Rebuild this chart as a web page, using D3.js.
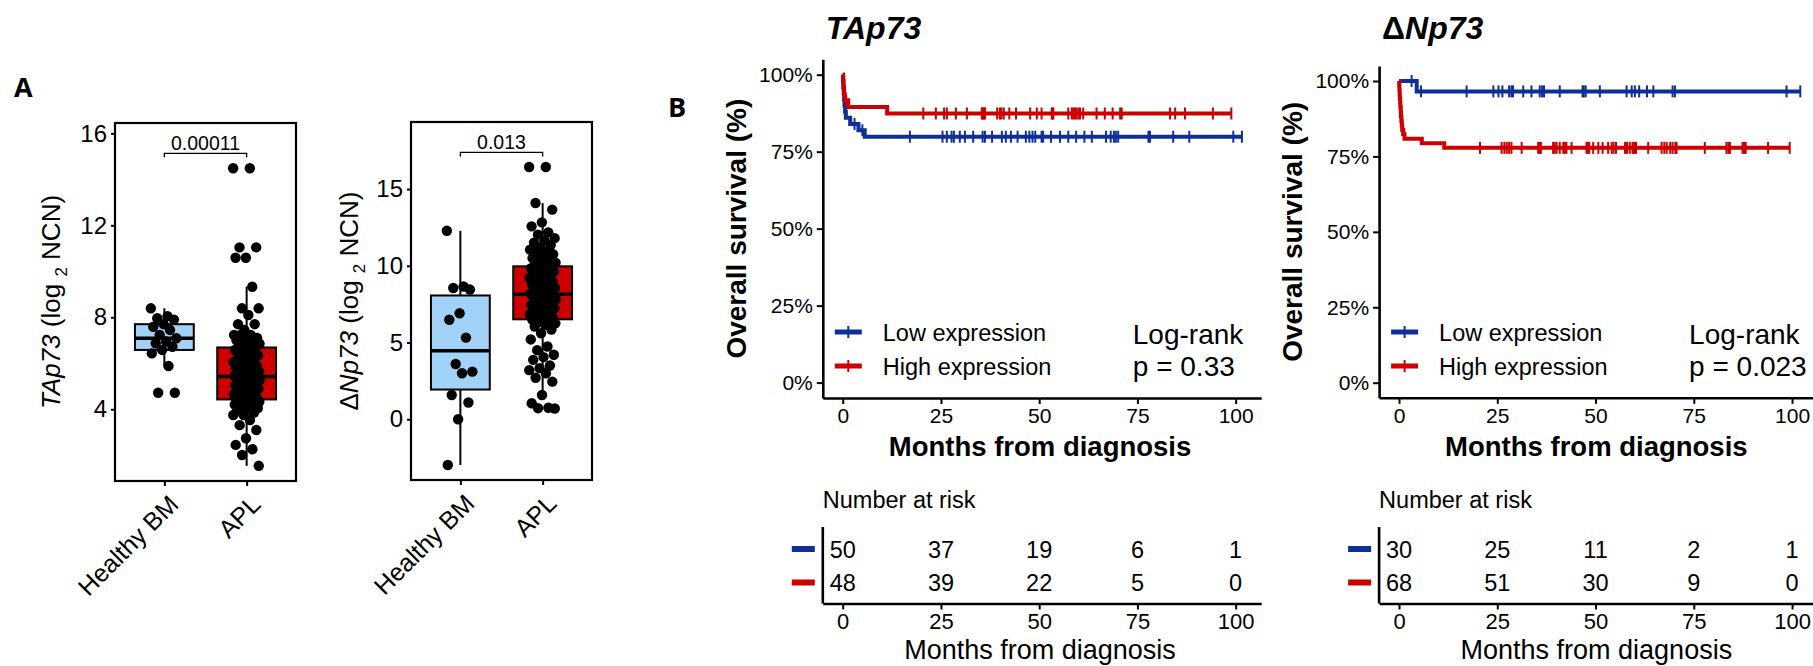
<!DOCTYPE html>
<html>
<head>
<meta charset="utf-8">
<script src="https://cdn.jsdelivr.net/npm/d3@7"></script>
<style>
  body { margin: 0; background: #fff; }
  svg { display: block; font-family: 'Liberation Sans', Arial, sans-serif; }
</style>
</head>
<body>
<svg id="chart"></svg>
<script>
(function () {
  // ---- Panel A: expression values (log2 NCN) ----
  var BOX_GROUPS = ['Healthy BM', 'APL']
  var tap73Healthy = [8.39, 8.05, 7.96, 7.90, 7.70, 7.59, 7.45, 7.23, 7.09, 6.95, 6.87, 6.72, 6.58, 6.43, 5.88, 4.72, 4.72]
  var tap73Apl = [
    14.48, 14.48, 11.04, 11.04, 10.59, 10.59, 9.33, 8.39, 8.39, 8.10, 7.70, 7.70, 7.45, 7.23, 7.23, 7.23,
    7.10, 7.05, 7.00, 6.95, 6.90, 6.85, 6.80, 6.75,
    6.70, 6.65, 6.58, 6.50, 6.42, 6.35, 6.28, 6.20, 6.15, 6.10, 6.05, 6.00, 5.95, 5.90, 5.85, 5.80, 5.75,
    5.70, 5.65, 5.60, 5.56, 5.52, 5.48, 5.45, 5.43,
    5.41, 5.40, 5.39, 5.37, 5.34, 5.31, 5.28, 5.24, 5.20, 5.15, 5.10, 5.05, 5.00, 4.95, 4.90, 4.85, 4.80,
    4.75, 4.70, 4.65, 4.60, 4.55, 4.50, 4.45, 4.42,
    4.38, 4.36, 4.33, 4.30, 4.28, 4.25, 4.22, 4.20, 4.15, 4.10, 4.05, 4.00, 3.95, 3.85, 3.75, 3.75,
    3.53, 3.31, 3.10, 2.74, 2.45, 2.26, 2.01, 1.54
  ]
  var dnp73Healthy = [12.28, 8.65, 8.55, 8.45, 6.91, 6.48, 5.32, 3.60, 3.10, 3.00, 1.58, 1.09, 0.00, -2.98]
  var dnp73Apl = [
    16.44, 16.44, 14.09, 13.66, 12.83, 12.57, 12.18, 12.03, 11.80, 11.65, 11.50, 11.35, 11.20, 11.05,
    10.94, 10.85, 10.75, 10.62, 10.50, 10.40, 10.30, 10.20, 10.12, 10.05,
    9.98, 9.92, 9.85, 9.78, 9.70, 9.62, 9.54, 9.46, 9.38, 9.30, 9.22, 9.14, 9.05, 8.96, 8.88, 8.80,
    8.72, 8.64, 8.56, 8.48, 8.40, 8.33, 8.26, 8.20, 8.16,
    8.14, 8.11, 8.07, 8.02, 7.96, 7.90, 7.82, 7.75, 7.68, 7.60, 7.52, 7.45, 7.38, 7.30, 7.22, 7.15,
    7.08, 7.00, 6.92, 6.85, 6.78, 6.70, 6.62, 6.55, 6.50,
    6.42, 6.35, 6.25, 6.15, 6.04, 5.85, 5.60, 5.20, 4.74, 4.50, 4.20, 4.05, 3.87, 3.50, 3.33, 3.20,
    3.00, 2.70, 2.45, 1.58, 1.04, 0.75, 0.72, 0.70
  ]
  var TAP73_TICKS = [4, 8, 12, 16]
  var DNP73_TICKS = [0, 5, 10, 15]
  var BOX_P_VALUES = ['0.00011', '0.013']

  // ---- Panel B: survival (months), events and censored times ----
  var tapLowEvents = [0.1, 0.15, 0.25, 0.35, 0.45, 0.6, 0.8, 1.9, 4.0, 5.6]
  var tapLowCensor = [3.0, 5.0, 17.1, 25.4, 26.5, 27.7, 28.3, 29.8, 31.1, 33.2, 35.6, 36.2, 38.0, 40.5, 41.5,
    42.8, 44.5, 46.6, 47.5, 48.3, 49.0, 50.6, 51.0, 53.0, 55.3, 57.4, 59.4, 61.5, 63.4, 67.0, 68.2, 69.0,
    69.5, 70.1, 77.8, 78.2, 84.1, 88.2, 99.4, 101.6]
  var tapHighEvents = [0.1, 0.2, 0.35, 0.5, 1.4, 11.3]
  var tapHighCensor = [0.9, 20.5, 23.7, 25.8, 26.5, 28.8, 31.6, 35.4, 35.6, 35.8, 36.0, 36.2, 39.3, 40.0, 40.4,
    41.0, 42.4, 44.1, 47.7, 49.4, 50.6, 53.2, 53.4, 53.6, 57.4, 58.3, 58.7, 59.1, 59.5, 60.0, 60.4, 61.2,
    64.6, 66.7, 68.7, 70.6, 71.0, 83.3, 84.6, 87.1, 94.2, 98.9]
  var dnpLowEvents = [4.5]
  var dnpLowCensor = [3.2, 5.6, 17.2, 24.0, 25.3, 26.3, 28.0, 28.6, 29.0, 31.6, 33.7, 35.8, 36.4, 36.9, 40.9,
    46.7, 47.0, 47.5, 51.1, 57.9, 59.2, 60.0, 61.1, 63.1, 64.7, 69.6, 70.2, 98.6, 102.1]
  var dnpHighEvents = [0.05, 0.1, 0.15, 0.2, 0.3, 0.35, 0.45, 0.5, 0.6, 0.7, 0.8, 1.1, 1.4, 5.8, 11.5]
  var dnpHighCensor = [0.85, 20.6, 26.1, 26.8, 27.4, 28.0, 28.6, 31.2, 35.4, 35.8, 36.1, 39.2, 39.6, 40.1,
    40.9, 41.8, 42.2, 42.6, 43.9, 47.7, 48.0, 48.4, 49.4, 50.7, 51.8, 53.2, 54.1, 54.6, 55.2, 57.5, 58.0,
    58.7, 59.4, 59.7, 60.0, 60.3, 63.4, 66.8, 67.5, 68.1, 69.0, 69.6, 70.3, 70.6, 77.8, 83.3, 83.8, 84.2,
    87.4, 87.8, 88.2, 93.9, 99.4]

  var KM_X_TICKS = [0, 25, 50, 75, 100]
  var KM_Y_TICKS = [0, 0.25, 0.5, 0.75, 1]
  var tapRiskLow = [50, 37, 19, 6, 1]
  var tapRiskHigh = [48, 39, 22, 5, 0]
  var dnpRiskLow = [30, 25, 11, 2, 1]
  var dnpRiskHigh = [68, 51, 30, 9, 0]
  var LOG_RANK_P = ['0.33', '0.023']
  var LEGEND_LABELS = ['Low expression', 'High expression']

  // Colours
  var HEALTHY_FILL = '#a3d2f8'
  var APL_FILL = '#cc0000'
  var LOW_COLOR = '#0e2f98'
  var HIGH_COLOR = '#cc0000'

  var svg = d3.select('#chart').attr('width', 1813).attr('height', 666)

  function boxStats (values) {
    var v = values.slice().sort(d3.ascending)
    var q1 = d3.quantile(v, 0.25)
    var med = d3.quantile(v, 0.5)
    var q3 = d3.quantile(v, 0.75)
    var iqr = q3 - q1
    var lo = d3.min(v.filter(function (d) { return d >= q1 - 1.5 * iqr }))
    var hi = d3.max(v.filter(function (d) { return d <= q3 + 1.5 * iqr }))
    return { q1: q1, med: med, q3: q3, lo: lo, hi: hi }
  }

  function drawBoxPanel (cfg) {
    var g = svg.append('g')
    var x = d3.scalePoint().domain(BOX_GROUPS).range([cfg.left, cfg.right]).padding(0.6)
    var y = d3.scaleLinear().domain(cfg.domain).range([cfg.bottom, cfg.top])
    var boxW = x.step() * 0.715

    cfg.series.forEach(function (values, i) {
      var cx = x(BOX_GROUPS[i])
      var s = boxStats(values)
      g.append('line')
        .attr('x1', cx).attr('x2', cx)
        .attr('y1', y(s.lo)).attr('y2', y(s.hi))
        .attr('stroke', '#000').attr('stroke-width', 2)
      g.append('rect')
        .attr('x', cx - boxW / 2).attr('width', boxW)
        .attr('y', y(s.q3)).attr('height', y(s.q1) - y(s.q3))
        .attr('fill', cfg.fills[i]).attr('stroke', '#000').attr('stroke-width', 2)
      g.append('line')
        .attr('x1', cx - boxW / 2).attr('x2', cx + boxW / 2)
        .attr('y1', y(s.med)).attr('y2', y(s.med))
        .attr('stroke', '#000').attr('stroke-width', 3.5)
      // jittered points (deterministic spread)
      g.append('g').selectAll('circle')
        .data(values)
        .enter().append('circle')
        .attr('cx', function (d, k) { return cx + (((k * 0.618034) % 1) - 0.5) * 27 })
        .attr('cy', function (d) { return y(d) })
        .attr('r', 5.2)
        .attr('fill', '#000')
    })

    // significance bracket
    var by = y(cfg.bracket)
    var x0 = x(BOX_GROUPS[0])
    var x1 = x(BOX_GROUPS[1])
    g.append('path')
      .attr('d', 'M' + x0 + ',' + (by + 4) + 'V' + by + 'H' + x1 + 'V' + (by + 4))
      .attr('fill', 'none').attr('stroke', '#000').attr('stroke-width', 1.3)
    g.append('text')
      .attr('x', (x0 + x1) / 2).attr('y', by - 3)
      .attr('text-anchor', 'middle')
      .style('font-size', '19.5px')
      .text(cfg.pValue)

    // frame
    g.append('rect')
      .attr('x', cfg.left).attr('y', cfg.top)
      .attr('width', cfg.right - cfg.left).attr('height', cfg.bottom - cfg.top)
      .attr('fill', 'none').attr('stroke', '#000').attr('stroke-width', 2.2)

    var ya = g.append('g')
      .attr('transform', 'translate(' + cfg.left + ',0)')
      .call(d3.axisLeft(y).tickValues(cfg.ticks).tickSize(4).tickPadding(4))
    ya.select('.domain').remove()
    ya.selectAll('line').attr('stroke-width', 2)
    ya.selectAll('text').style('font-size', '24px').attr('fill', '#000')

    var xa = g.append('g')
      .attr('transform', 'translate(0,' + cfg.bottom + ')')
      .call(d3.axisBottom(x).tickSize(5))
    xa.select('.domain').remove()
    xa.selectAll('line').attr('stroke-width', 2)
    xa.selectAll('text')
      .style('font-size', '25px').attr('fill', '#000')
      .attr('text-anchor', 'end')
      .attr('dy', null).attr('y', 0)
      .attr('transform', 'translate(15,25) rotate(-45)')

    // y title with italic gene name and subscript 2
    var t = g.append('text')
      .attr('transform', 'translate(' + cfg.titleX + ',' + (cfg.top + cfg.bottom) / 2 + ') rotate(-90)')
      .attr('text-anchor', 'middle')
      .style('font-size', '26px')
    cfg.titleParts.forEach(function (p) {
      t.append('tspan').style('font-style', p.italic ? 'italic' : 'normal').text(p.text)
    })
    t.append('tspan').text('  (log ')
    t.append('tspan').attr('dy', 7).style('font-size', '17px').text('2')
    t.append('tspan').attr('dy', -7).text(' NCN)')
  }

  function kaplanMeier (events, censors) {
    var obs = events.map(function (d) { return { t: d, event: true } })
      .concat(censors.map(function (d) { return { t: d, event: false } }))
      .sort(function (a, b) { return a.t - b.t })
    var atRisk = obs.length
    var surv = 1
    var steps = [{ t: 0, s: 1 }]
    var marks = []
    obs.forEach(function (o) {
      if (o.event) {
        surv = surv * (atRisk - 1) / atRisk
        steps.push({ t: o.t, s: surv })
      } else {
        marks.push({ t: o.t, s: surv })
      }
      atRisk--
    })
    steps.push({ t: obs[obs.length - 1].t, s: surv })
    return { steps: steps, marks: marks }
  }

  function styleAxis (sel, size) {
    sel.select('.domain').attr('stroke-width', 2.6)
    sel.selectAll('.tick line').attr('stroke-width', 2)
    sel.selectAll('text').style('font-size', size).attr('fill', '#000')
  }

  function drawKmPanel (cfg) {
    var g = svg.append('g')
    var x = d3.scaleLinear().domain([-5.07, 106.5]).range([cfg.left, cfg.right])
    var y = d3.scaleLinear().domain([-0.05, 1.05]).range([cfg.bottom, cfg.top])
    var colors = [LOW_COLOR, HIGH_COLOR]

    // title
    var title = g.append('text')
      .attr('x', cfg.left + 3).attr('y', 39)
      .style('font-size', '32px').style('font-weight', 'bold')
    cfg.titleParts.forEach(function (p) {
      title.append('tspan').style('font-style', p.italic ? 'italic' : 'normal').text(p.text)
    })

    var line = d3.line()
      .curve(d3.curveStepAfter)
      .x(function (d) { return x(d.t) })
      .y(function (d) { return y(d.s) })

    cfg.groups.forEach(function (grp, i) {
      var km = kaplanMeier(grp.events, grp.censor)
      g.append('path')
        .datum(km.steps)
        .attr('d', line)
        .attr('fill', 'none')
        .attr('stroke', colors[i])
        .attr('stroke-width', 4)
      g.append('g').selectAll('line')
        .data(km.marks)
        .enter().append('line')
        .attr('x1', function (d) { return x(d.t) })
        .attr('x2', function (d) { return x(d.t) })
        .attr('y1', function (d) { return y(d.s) - 6 })
        .attr('y2', function (d) { return y(d.s) + 6 })
        .attr('stroke', colors[i])
        .attr('stroke-width', 2)
    })

    var ya = g.append('g')
      .attr('transform', 'translate(' + cfg.left + ',0)')
      .call(d3.axisLeft(y).tickValues(KM_Y_TICKS).tickFormat(d3.format('.0%'))
        .tickSize(6).tickSizeOuter(0).tickPadding(4))
    styleAxis(ya, '21px')
    var xa = g.append('g')
      .attr('transform', 'translate(0,' + cfg.bottom + ')')
      .call(d3.axisBottom(x).tickValues(KM_X_TICKS).tickSize(6).tickSizeOuter(0).tickPadding(4))
    styleAxis(xa, '21px')

    g.append('text')
      .attr('transform', 'translate(' + (cfg.left - 77) + ',' + (cfg.top + cfg.bottom) / 2 + ') rotate(-90)')
      .attr('text-anchor', 'middle')
      .style('font-size', '28px').style('font-weight', 'bold')
      .text('Overall survival (%)')
    g.append('text')
      .attr('x', (cfg.left + cfg.right) / 2 - 2).attr('y', 456)
      .attr('text-anchor', 'middle')
      .style('font-size', '27.5px').style('font-weight', 'bold')
      .text('Months from diagnosis')

    // legend
    LEGEND_LABELS.forEach(function (lab, i) {
      var ly = cfg.legendY + i * 34
      g.append('line')
        .attr('x1', cfg.left + 12).attr('x2', cfg.left + 39)
        .attr('y1', ly).attr('y2', ly)
        .attr('stroke', colors[i]).attr('stroke-width', 5)
      g.append('line')
        .attr('x1', cfg.left + 25.5).attr('x2', cfg.left + 25.5)
        .attr('y1', ly - 6).attr('y2', ly + 6)
        .attr('stroke', colors[i]).attr('stroke-width', 2)
      g.append('text')
        .attr('x', cfg.left + 60).attr('y', ly + 8.5)
        .style('font-size', '23.5px')
        .text(lab)
    })
    g.append('text')
      .attr('x', cfg.left + 310).attr('y', 344)
      .style('font-size', '28px')
      .text('Log-rank')
    g.append('text')
      .attr('x', cfg.left + 310).attr('y', 376)
      .style('font-size', '28px')
      .text('p = ' + cfg.p)

    // number at risk table
    var top = 527
    var base = 603.5
    g.append('text')
      .attr('x', cfg.left).attr('y', 508)
      .style('font-size', '23.5px')
      .text('Number at risk')
    cfg.risk.forEach(function (row, i) {
      var ry = 549 + i * 33.5
      g.append('rect')
        .attr('x', cfg.left - 31).attr('y', ry - 3)
        .attr('width', 23).attr('height', 6)
        .attr('fill', colors[i])
      g.append('g').selectAll('text')
        .data(row)
        .enter().append('text')
        .attr('x', function (d, k) { return x(KM_X_TICKS[k]) })
        .attr('y', ry + 8.5)
        .attr('text-anchor', 'middle')
        .style('font-size', '23.5px')
        .text(function (d) { return d })
    })
    g.append('line')
      .attr('x1', cfg.left).attr('x2', cfg.left)
      .attr('y1', top).attr('y2', base)
      .attr('stroke', '#000').attr('stroke-width', 2.6)
    var ra = g.append('g')
      .attr('transform', 'translate(0,' + base + ')')
      .call(d3.axisBottom(x).tickValues(KM_X_TICKS).tickSize(6).tickSizeOuter(0).tickPadding(4))
    styleAxis(ra, '22px')
    g.append('text')
      .attr('x', (cfg.left + cfg.right) / 2 - 2).attr('y', 659)
      .attr('text-anchor', 'middle')
      .style('font-size', '27px')
      .text('Months from diagnosis')
  }

  // panel letters
  svg.append('text').attr('x', 14).attr('y', 97)
    .style('font-family', "'Open Sans', sans-serif").style('font-weight', 'bold').style('font-size', '27px')
    .text('A')
  svg.append('text').attr('x', 668).attr('y', 117)
    .style('font-family', "'Open Sans', sans-serif").style('font-weight', 'bold').style('font-size', '27px')
    .text('B')

  drawBoxPanel({
    left: 115, right: 296, top: 123, bottom: 481,
    domain: [0.88, 16.45], ticks: TAP73_TICKS,
    series: [tap73Healthy, tap73Apl], fills: [HEALTHY_FILL, APL_FILL],
    bracket: 15.13, pValue: BOX_P_VALUES[0],
    titleX: 60, titleParts: [{ text: 'TAp73', italic: true }]
  })
  drawBoxPanel({
    left: 411, right: 592, top: 122, bottom: 480,
    domain: [-3.96, 19.37], ticks: DNP73_TICKS,
    series: [dnp73Healthy, dnp73Apl], fills: [HEALTHY_FILL, APL_FILL],
    bracket: 17.39, pValue: BOX_P_VALUES[1],
    titleX: 358, titleParts: [{ text: '\u0394', italic: false }, { text: 'Np73', italic: true }]
  })

  drawKmPanel({
    left: 822.8, right: 1261.2, top: 59.3, bottom: 398,
    titleParts: [{ text: 'TAp73', italic: true }],
    groups: [{ events: tapLowEvents, censor: tapLowCensor }, { events: tapHighEvents, censor: tapHighCensor }],
    risk: [tapRiskLow, tapRiskHigh], p: LOG_RANK_P[0], legendY: 332
  })
  drawKmPanel({
    left: 1379.1, right: 1817.6, top: 65.9, bottom: 397.8,
    titleParts: [{ text: '\u0394', italic: false }, { text: 'Np73', italic: true }],
    groups: [{ events: dnpLowEvents, censor: dnpLowCensor }, { events: dnpHighEvents, censor: dnpHighCensor }],
    risk: [dnpRiskLow, dnpRiskHigh], p: LOG_RANK_P[1], legendY: 332
  })
})()
</script>
</body>
</html>
